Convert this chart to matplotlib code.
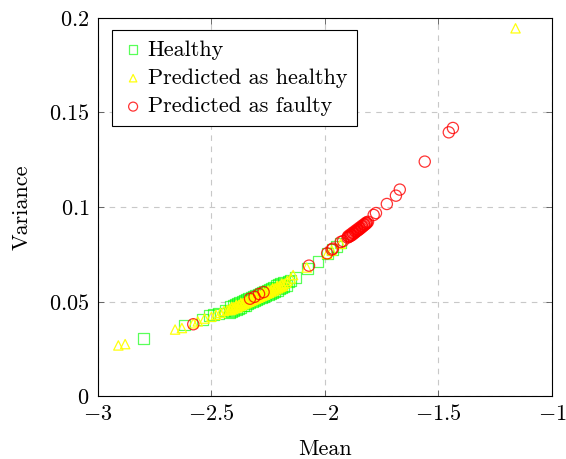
import matplotlib
matplotlib.use("Agg")
import matplotlib.pyplot as plt
from matplotlib.ticker import FixedLocator, FixedFormatter

plt.rcParams["font.family"] = "serif"
plt.rcParams["font.serif"] = ["cmr10", "DejaVu Serif"]
plt.rcParams["mathtext.fontset"] = "cm"
plt.rcParams["axes.unicode_minus"] = False

# Healthy samples (mean, variance): sparse points along the curve
healthy_outer_mean = [-2.80, -2.62, -2.54, -2.51, -2.49, -2.47, -2.44, -2.16, -2.15, -2.13,
                      -2.075, -2.03, -1.99, -1.965, -1.95, -1.93]
healthy_outer_var = [0.0305, 0.0376, 0.0405, 0.0428, 0.0433, 0.0438, 0.0452, 0.0605, 0.0612, 0.0628,
                     0.0675, 0.0712, 0.0755, 0.0775, 0.0790, 0.0810]
# Healthy samples: dense core
healthy_core_mean = [-2.42, -2.41, -2.40, -2.39, -2.38, -2.37, -2.36, -2.35, -2.34, -2.33,
                     -2.32, -2.31, -2.30, -2.29, -2.28, -2.27, -2.26, -2.25, -2.24, -2.23,
                     -2.22, -2.21, -2.20, -2.19, -2.18, -2.17,
                     -2.415, -2.405, -2.395, -2.385, -2.375, -2.365, -2.355, -2.345, -2.335, -2.325,
                     -2.315, -2.305, -2.295, -2.285, -2.275, -2.265, -2.255, -2.245, -2.235, -2.225,
                     -2.215, -2.205, -2.195, -2.185]
healthy_core_var = [0.0444, 0.0449, 0.0454, 0.0459, 0.0465, 0.0470, 0.0476, 0.0481, 0.0487, 0.0492,
                    0.0498, 0.0503, 0.0509, 0.0514, 0.0520, 0.0525, 0.0531, 0.0536, 0.0542, 0.0548,
                    0.0554, 0.0560, 0.0566, 0.0572, 0.0578, 0.0584,
                    0.0472, 0.0478, 0.0483, 0.0488, 0.0494, 0.0499, 0.0505, 0.0510, 0.0516, 0.0521,
                    0.0527, 0.0532, 0.0538, 0.0543, 0.0549, 0.0554, 0.0560, 0.0565, 0.0571, 0.0577,
                    0.0583, 0.0589, 0.0595, 0.0601]

# Samples predicted as healthy: sparse points
pred_healthy_outer_mean = [-2.91, -2.88, -2.66, -2.63, -2.58, -2.56, -2.53, -2.50, -2.48, -2.46,
                           -2.445, -2.43, -2.165, -2.15, -2.14, -2.08, -1.99, -1.97, -1.93, -1.16]
pred_healthy_outer_var = [0.0268, 0.0275, 0.0352, 0.0360, 0.0385, 0.0395, 0.0410, 0.0420, 0.0430, 0.0440,
                          0.0450, 0.0455, 0.0610, 0.0622, 0.0640, 0.0680, 0.0752, 0.0770, 0.0805, 0.1945]
# Samples predicted as healthy: dense core
pred_healthy_core_mean = [-2.42, -2.41, -2.40, -2.39, -2.38, -2.37, -2.36, -2.35, -2.34, -2.33,
                          -2.32, -2.31, -2.30, -2.29, -2.28, -2.27, -2.26, -2.25, -2.24, -2.23,
                          -2.22, -2.21, -2.20, -2.19, -2.18, -2.17,
                          -2.415, -2.405, -2.395, -2.385, -2.375, -2.365, -2.355, -2.345, -2.335, -2.325,
                          -2.315, -2.305, -2.295, -2.285, -2.275, -2.265, -2.255, -2.245, -2.235, -2.225,
                          -2.215, -2.205, -2.195, -2.185,
                          -2.41, -2.39, -2.37, -2.35, -2.33, -2.31, -2.29, -2.27, -2.25, -2.23,
                          -2.21, -2.19]
pred_healthy_core_var = [0.0460, 0.0465, 0.0470, 0.0475, 0.0481, 0.0486, 0.0492, 0.0497, 0.0503, 0.0508,
                         0.0514, 0.0519, 0.0525, 0.0530, 0.0536, 0.0541, 0.0547, 0.0552, 0.0558, 0.0564,
                         0.0570, 0.0576, 0.0582, 0.0588, 0.0594, 0.0600,
                         0.0455, 0.0460, 0.0465, 0.0470, 0.0476, 0.0481, 0.0487, 0.0492, 0.0498, 0.0503,
                         0.0509, 0.0514, 0.0520, 0.0525, 0.0531, 0.0536, 0.0542, 0.0547, 0.0553, 0.0559,
                         0.0565, 0.0571, 0.0577, 0.0583,
                         0.0472, 0.0482, 0.0493, 0.0504, 0.0515, 0.0526, 0.0537, 0.0548, 0.0559, 0.0571,
                         0.0583, 0.0595]

# Samples predicted as faulty
pred_faulty_mean = [-2.58, -2.33, -2.31, -2.29, -2.27, -2.07, -1.99, -1.97, -1.965, -1.93,
                    -1.92, -1.90, -1.895, -1.89, -1.885, -1.88, -1.875, -1.87, -1.865, -1.86,
                    -1.855, -1.85, -1.845, -1.84, -1.835, -1.83, -1.825, -1.82, -1.815, -1.81,
                    -1.8975, -1.8875, -1.8775, -1.8675, -1.8575, -1.8475, -1.8375, -1.8275, -1.8175,
                    -1.785, -1.775, -1.727, -1.687, -1.67, -1.56, -1.454, -1.436]
pred_faulty_var = [0.0380, 0.0515, 0.0525, 0.0540, 0.0550, 0.0690, 0.0755, 0.0775, 0.0780, 0.0815,
                   0.0820, 0.0838, 0.0842, 0.0845, 0.0849, 0.0852, 0.0858, 0.0862, 0.0867, 0.0872,
                   0.0876, 0.0880, 0.0885, 0.0890, 0.0895, 0.0900, 0.0905, 0.0910, 0.0915, 0.0922,
                   0.0846, 0.0855, 0.0864, 0.0873, 0.0882, 0.0891, 0.0900, 0.0909, 0.0918,
                   0.0958, 0.0968, 0.1016, 0.1060, 0.1092, 0.1240, 0.1395, 0.1418]

healthy_mean = healthy_outer_mean + healthy_core_mean
healthy_var = healthy_outer_var + healthy_core_var
pred_healthy_mean = pred_healthy_outer_mean + pred_healthy_core_mean
pred_healthy_var = pred_healthy_outer_var + pred_healthy_core_var

x_ticks = [-3, -2.5, -2, -1.5, -1]
x_tick_labels = [r"$-3$", r"$-2.5$", r"$-2$", r"$-1.5$", r"$-1$"]
y_ticks = [0, 0.05, 0.1, 0.15, 0.2]
y_tick_labels = [r"$0$", r"$0.05$", r"$0.1$", r"$0.15$", r"$0.2$"]

fig = plt.figure(figsize=(5.66, 4.59), dpi=100)
ax = fig.add_axes([0.173, 0.137, 0.802, 0.824])

ax.scatter(healthy_mean, healthy_var, marker="s", s=60, facecolors="none",
           edgecolors=(0.0, 1.0, 0.0, 0.65), linewidths=0.9, label="Healthy", zorder=3)
ax.scatter(pred_healthy_mean, pred_healthy_var, marker="^", s=45, facecolors="none",
           edgecolors=(1.0, 1.0, 0.0, 0.95), linewidths=0.9, label="Predicted as healthy", zorder=4)
ax.scatter(pred_faulty_mean, pred_faulty_var, marker="o", s=65, facecolors="none",
           edgecolors=(1.0, 0.0, 0.0, 0.8), linewidths=0.9, label="Predicted as faulty", zorder=5)

ax.set_xlim(-3, -1)
ax.set_ylim(0, 0.2)
ax.xaxis.set_major_locator(FixedLocator(x_ticks))
ax.xaxis.set_major_formatter(FixedFormatter(x_tick_labels))
ax.yaxis.set_major_locator(FixedLocator(y_ticks))
ax.yaxis.set_major_formatter(FixedFormatter(y_tick_labels))
ax.tick_params(direction="in", top=True, right=True, length=4, width=0.6,
               labelsize=16, color="#555555")
ax.tick_params(axis="x", pad=6)
ax.tick_params(axis="y", pad=6)
ax.grid(True, linestyle=(0, (5, 5)), color="#c8c8c8", linewidth=0.8)
ax.set_axisbelow(True)
for sp in ax.spines.values():
    sp.set_linewidth(0.8)
    sp.set_color("black")

ax.set_xlabel("Mean", fontsize=16, labelpad=11)
ax.set_ylabel("Variance", fontsize=16, labelpad=13)

leg = ax.legend(loc="upper left", bbox_to_anchor=(0.031, 0.968), borderaxespad=0,
                fontsize=16, fancybox=False, framealpha=1, edgecolor="black",
                handletextpad=0.15, handlelength=1.0, borderpad=0.45, labelspacing=0.4,
                markerscale=0.8)
leg.get_frame().set_linewidth(0.8)

fig.savefig("out.png", dpi=100)
